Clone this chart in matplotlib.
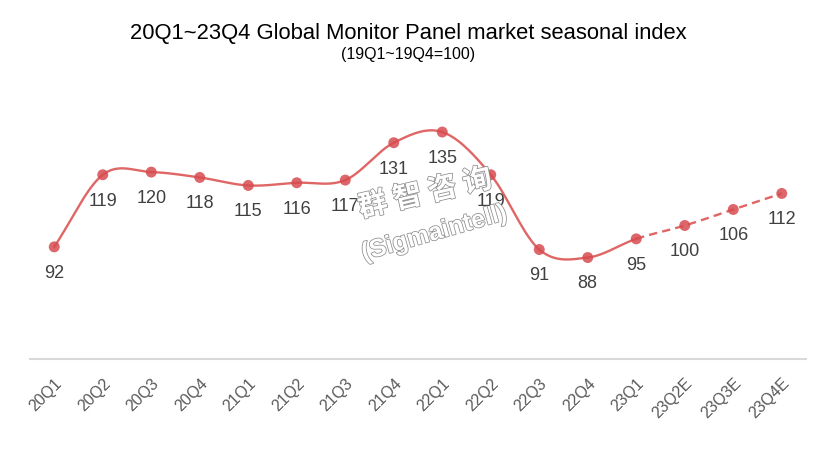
import numpy as np
import matplotlib.pyplot as plt
import matplotlib.patheffects as pe

plt.rcParams['font.family'] = ['Liberation Sans', 'DejaVu Sans']

# dati
quarters = ['20Q1', '20Q2', '20Q3', '20Q4', '21Q1', '21Q2', '21Q3', '21Q4',
            '22Q1', '22Q2', '22Q3', '22Q4', '23Q1', '23Q2E', '23Q3E', '23Q4E']
index_vals = [92, 119, 120, 118, 115, 116, 117, 131,
              135, 119, 91, 88, 95, 100, 106, 112]
n_actual = 13  # fino a 23Q1 linea continua, poi stima tratteggiata

line_col = '#e06666'
dot_col = '#d64b50'


def catmull(x, y, n=30):
    # spline di catmull-rom per la curva smussata
    x = np.asarray(x, float)
    y = np.asarray(y, float)
    px = np.concatenate([[2 * x[0] - x[1]], x, [2 * x[-1] - x[-2]]])
    py = np.concatenate([[2 * y[0] - y[1]], y, [2 * y[-1] - y[-2]]])
    xs, ys = [], []
    for i in range(1, len(px) - 2):
        t = np.linspace(0, 1, n, endpoint=False)
        t2, t3 = t * t, t * t * t
        for p, out in ((px, xs), (py, ys)):
            p0, p1, p2, p3 = p[i - 1], p[i], p[i + 1], p[i + 2]
            out.append(0.5 * (2 * p1 + (-p0 + p2) * t +
                              (2 * p0 - 5 * p1 + 4 * p2 - p3) * t2 +
                              (-p0 + 3 * p1 - 3 * p2 + p3) * t3))
    xs = np.concatenate(xs + [[x[-1]]])
    ys = np.concatenate(ys + [[y[-1]]])
    return xs, ys


fig = plt.figure(figsize=(8.16, 4.54), dpi=100)
ax = fig.add_axes([30 / 816, 1 - 359 / 454, 776 / 816, (359 - 92) / 454])

x = np.arange(len(quarters))
sx, sy = catmull(x, index_vals)
split = n_actual - 1
m1 = sx <= split + 1e-9
m2 = sx >= split - 1e-9
ax.plot(sx[m1], sy[m1], color=line_col, lw=1.7, zorder=2)
ax.plot(sx[m2], sy[m2], color=line_col, lw=1.7, ls=(0, (3.5, 2.2)), zorder=2)
ax.scatter(x, index_vals, s=62, color=dot_col, alpha=0.85, zorder=3, edgecolors='none')

for xi, v in zip(x, index_vals):
    ax.annotate(str(v), (xi, v), xytext=(0, -19), textcoords='offset points',
                ha='center', va='center', fontsize=13, color='#404040', zorder=4)

ax.set_xlim(-0.5, len(quarters) - 0.5)
ax.set_ylim(50, 150)
ax.set_xticks(x)
ax.set_xticklabels(quarters, rotation=45, ha='right', rotation_mode='anchor',
                   fontsize=11.5, color='#595959')
ax.tick_params(axis='x', length=0, pad=12)
ax.set_yticks([])
for s in ['top', 'right', 'left']:
    ax.spines[s].set_visible(False)
ax.spines['bottom'].set_color('#d9d9d9')
ax.spines['bottom'].set_linewidth(1.5)

fig.text(0.5, 1 - 34 / 454, '20Q1~23Q4 Global Monitor Panel market seasonal index',
         ha='center', va='center', fontsize=15.8, color='black')
fig.text(0.5, 1 - 55 / 454, '(19Q1~19Q4=100)', ha='center', va='center',
         fontsize=11.5, color='black')

# filigrana
outline = [pe.Stroke(linewidth=1.1, foreground='#8c8c8c'), pe.Normal()]
fig.text(425 / 816, 1 - 193 / 454, '群 智 咨 询', ha='center', va='center', fontsize=21,
         rotation=13, family=['Noto Sans CJK SC', 'DejaVu Sans'], fontweight='bold',
         color='white', path_effects=outline, zorder=5)
fig.text(434 / 816, 1 - 233 / 454, '(Sigmaintell)', ha='center', va='center', fontsize=18,
         rotation=16, fontweight='bold', color='white', path_effects=outline, zorder=5)

fig.savefig('out.png', dpi=100)
